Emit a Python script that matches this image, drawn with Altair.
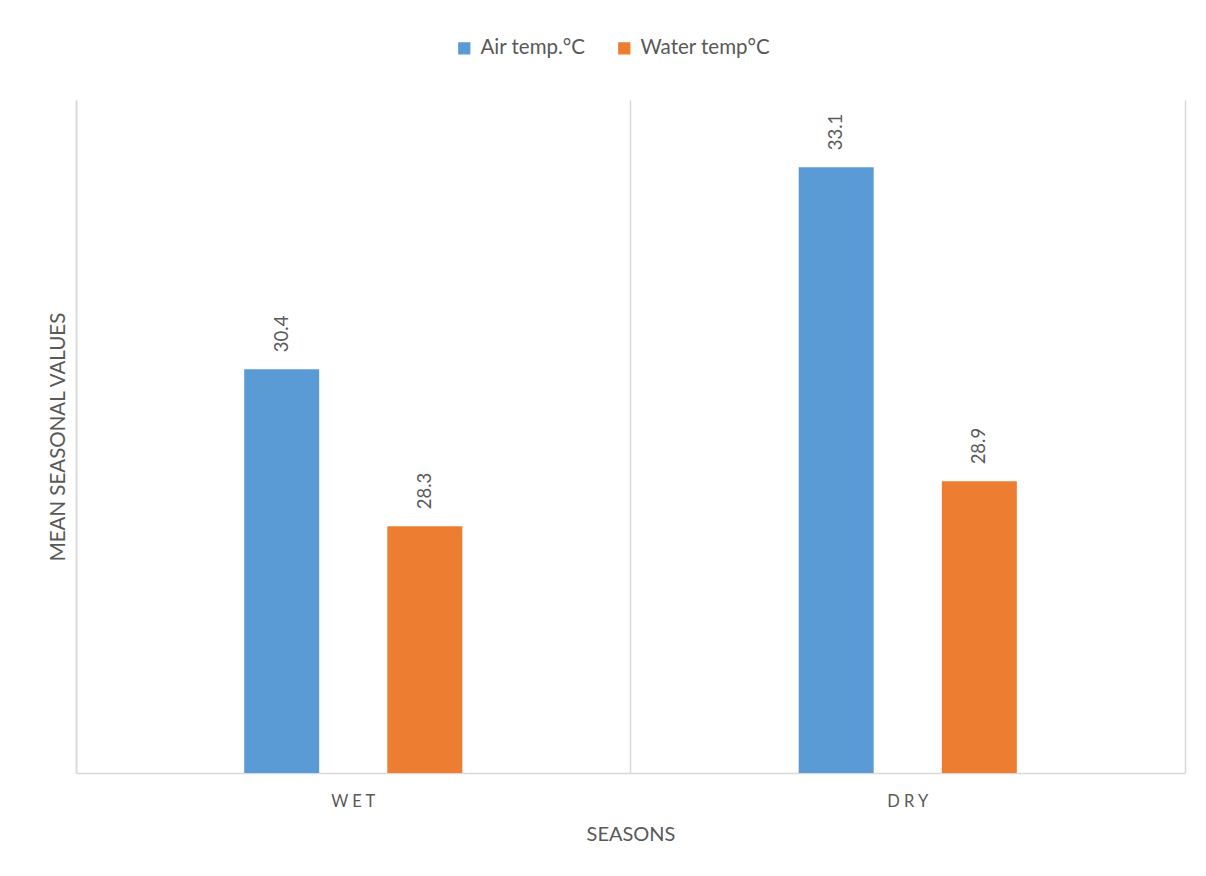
import altair as alt
import pandas as pd

seasons = ["WET", "DRY"]
series = ["Air temp.°C", "Water temp°C"]
air_temp = [30.4, 33.1]
water_temp = [28.3, 28.9]
colors = ["#5B9BD5", "#ED7D31"]

rows = []
for i, s in enumerate(seasons):
    rows.append({"season": s, "series": series[0], "value": air_temp[i]})
    rows.append({"season": s, "series": series[1], "value": water_temp[i]})
df = pd.DataFrame(rows)

FONT = "Lato"
GRAY = "#595959"
LINE = "#d9d9d9"

x = alt.X("season:N", sort=seasons,
          scale=alt.Scale(paddingInner=0, paddingOuter=0),
          axis=alt.Axis(title="SEASONS", labelAngle=0, ticks=False,
                        domainColor=LINE, domainWidth=1.5,
                        grid=True, gridColor=LINE, gridWidth=1.5, bandPosition=0,
                        labelExpr="join(split(datum.label, ''), ' ')",
                        labelPadding=20, labelFontSize=16.5, labelColor=GRAY,
                        titleFontSize=20, titleFontWeight="normal", titleColor=GRAY,
                        titlePadding=15))
xoff = alt.XOffset("series:N", sort=series,
                   scale=alt.Scale(paddingInner=0, paddingOuter=0.937))
yscale = alt.Scale(domain=[25, 34], zero=False, nice=False)

bars = alt.Chart(df).mark_bar(size=75, clip=True).encode(
    x=x,
    xOffset=xoff,
    y=alt.Y("value:Q", scale=yscale,
            axis=alt.Axis(title="MEAN SEASONAL VALUES", labels=False, ticks=False,
                          grid=False, domainColor=LINE, domainWidth=1.5,
                          titleFontSize=20.5, titleFontWeight="normal",
                          titleColor=GRAY, titlePadding=8)),
    color=alt.Color("series:N", sort=series,
                    scale=alt.Scale(domain=series, range=colors),
                    legend=alt.Legend(orient="none", legendX=378, legendY=-62,
                                      direction="horizontal", title=None,
                                      symbolType="square", symbolSize=150,
                                      symbolStrokeWidth=0, labelFontSize=20.5,
                                      labelColor=GRAY, labelFont=FONT,
                                      columnPadding=28, labelOffset=6)),
)

labels = alt.Chart(df).mark_text(angle=270, align="left", baseline="middle",
                                 dx=17, fontSize=18.5, color=GRAY, font=FONT).encode(
    x=alt.X("season:N", sort=seasons),
    xOffset=xoff,
    y=alt.Y("value:Q", scale=yscale,
            axis=alt.Axis(orient="right", title=None, labels=False, ticks=False,
                          grid=False, domainColor=LINE, domainWidth=1.5)),
    text=alt.Text("value:Q", format=".1f"),
)

chart = alt.layer(bars, labels).resolve_scale(y="independent").properties(
    width=1109, height=673,
    autosize=alt.AutoSizeParams(type="none"),
    padding={"left": 76, "top": 100, "right": 21, "bottom": 103},
    background="white",
).configure(font=FONT).configure_view(stroke=None)

chart.save("out.html", embed_options={"renderer": "svg", "actions": False})
